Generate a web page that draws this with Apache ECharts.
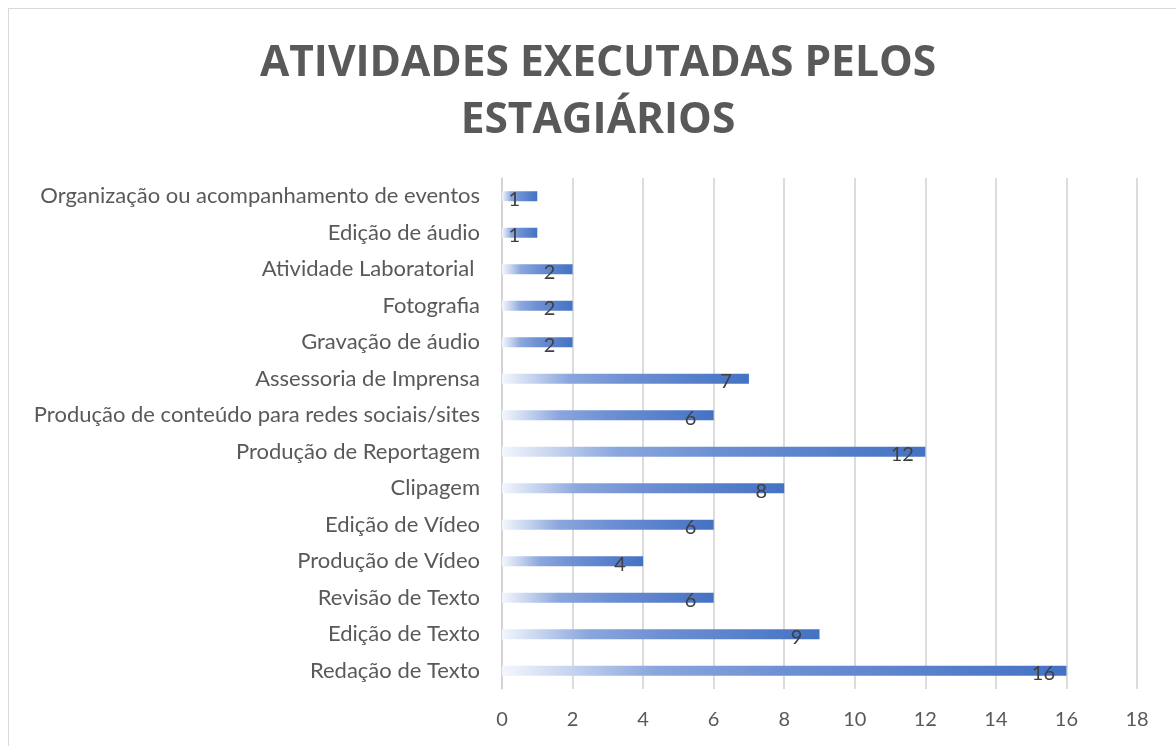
<!DOCTYPE html>
<html lang="pt-BR">
<head>
    <meta charset="UTF-8">
    <title>Atividades executadas pelos estagiários</title>
    <script src="https://cdnjs.cloudflare.com/ajax/libs/echarts/6.0.0/echarts.min.js"></script>
    <style>
        * { margin: 0; padding: 0; box-sizing: border-box; }
        body { background: #fff; width: 1176px; height: 746px; overflow: hidden; position: relative; }
        /* moldura do gráfico (só aparece em cima e à esquerda) */
        .frame {
            position: absolute; left: 8px; top: 8px;
            width: 1300px; height: 900px;
            border: 1px solid #d9d9d9;
        }
        #chart { position: absolute; left: 0; top: 0; width: 1176px; height: 746px; }
    </style>
</head>
<body>
    <div class="frame"></div>
    <div id="chart"></div>

    <script>
        // categorias de baixo para cima (ordem do eixo de categorias do ECharts)
        const categorias = [
            'Redação de Texto',
            'Edição de Texto',
            'Revisão de Texto',
            'Produção de Vídeo',
            'Edição de Vídeo',
            'Clipagem',
            'Produção de Reportagem',
            'Produção de conteúdo para redes sociais/sites',
            'Assessoria de Imprensa',
            'Gravação de áudio',
            'Fotografia',
            'Atividade Laboratorial ',
            'Edição de áudio',
            'Organização ou acompanhamento de eventos'
        ];
        const valores = [16, 9, 6, 4, 6, 8, 12, 6, 7, 2, 2, 2, 1, 1];
        const ticksX = [0, 2, 4, 6, 8, 10, 12, 14, 16, 18];

        const chart = echarts.init(document.getElementById('chart'));

        // degradê do branco ao azul dentro de cada barra
        const gradiente = new echarts.graphic.LinearGradient(0, 0, 1, 0, [
            { offset: 0, color: '#f3f6fc' },
            { offset: 0.12, color: '#c6d4ef' },
            { offset: 0.27, color: '#8aa6dd' },
            { offset: 0.5, color: '#6e90d3' },
            { offset: 1, color: '#4472c4' }
        ]);

        chart.setOption({
            animation: false,
            title: {
                text: 'ATIVIDADES EXECUTADAS PELOS\nESTAGIÁRIOS',
                left: 593,
                textAlign: 'center',
                top: 30,
                textStyle: {
                    fontFamily: 'Open Sans',
                    fontWeight: 'bold',
                    fontSize: 42.5,
                    lineHeight: 57,
                    color: '#595959'
                }
            },
            grid: { left: 502, right: 39, top: 178, bottom: 57, containLabel: false },
            xAxis: {
                type: 'value',
                min: ticksX[0],
                max: ticksX[ticksX.length - 1],
                interval: 2,
                axisLine: { show: false },
                axisTick: { show: false },
                axisLabel: { color: '#595959', fontSize: 20, fontFamily: 'Lato', margin: 21 },
                splitLine: { show: true, lineStyle: { color: '#d0d0d0', width: 1.5 } }
            },
            yAxis: {
                type: 'category',
                data: categorias,
                axisLine: { show: true, lineStyle: { color: '#d0d0d0', width: 1.5 } },
                axisTick: { show: false },
                axisLabel: { color: '#595959', fontSize: 22, fontFamily: 'Lato', margin: 22 }
            },
            series: [{
                type: 'bar',
                data: valores,
                barWidth: 10,
                itemStyle: { color: gradiente },
                label: {
                    show: true,
                    position: 'insideRight',
                    distance: 23,
                    align: 'center',
                    offset: [0, 3],
                    color: '#404040',
                    fontSize: 20,
                    fontFamily: 'Lato'
                }
            }]
        });
    </script>
</body>
</html>
